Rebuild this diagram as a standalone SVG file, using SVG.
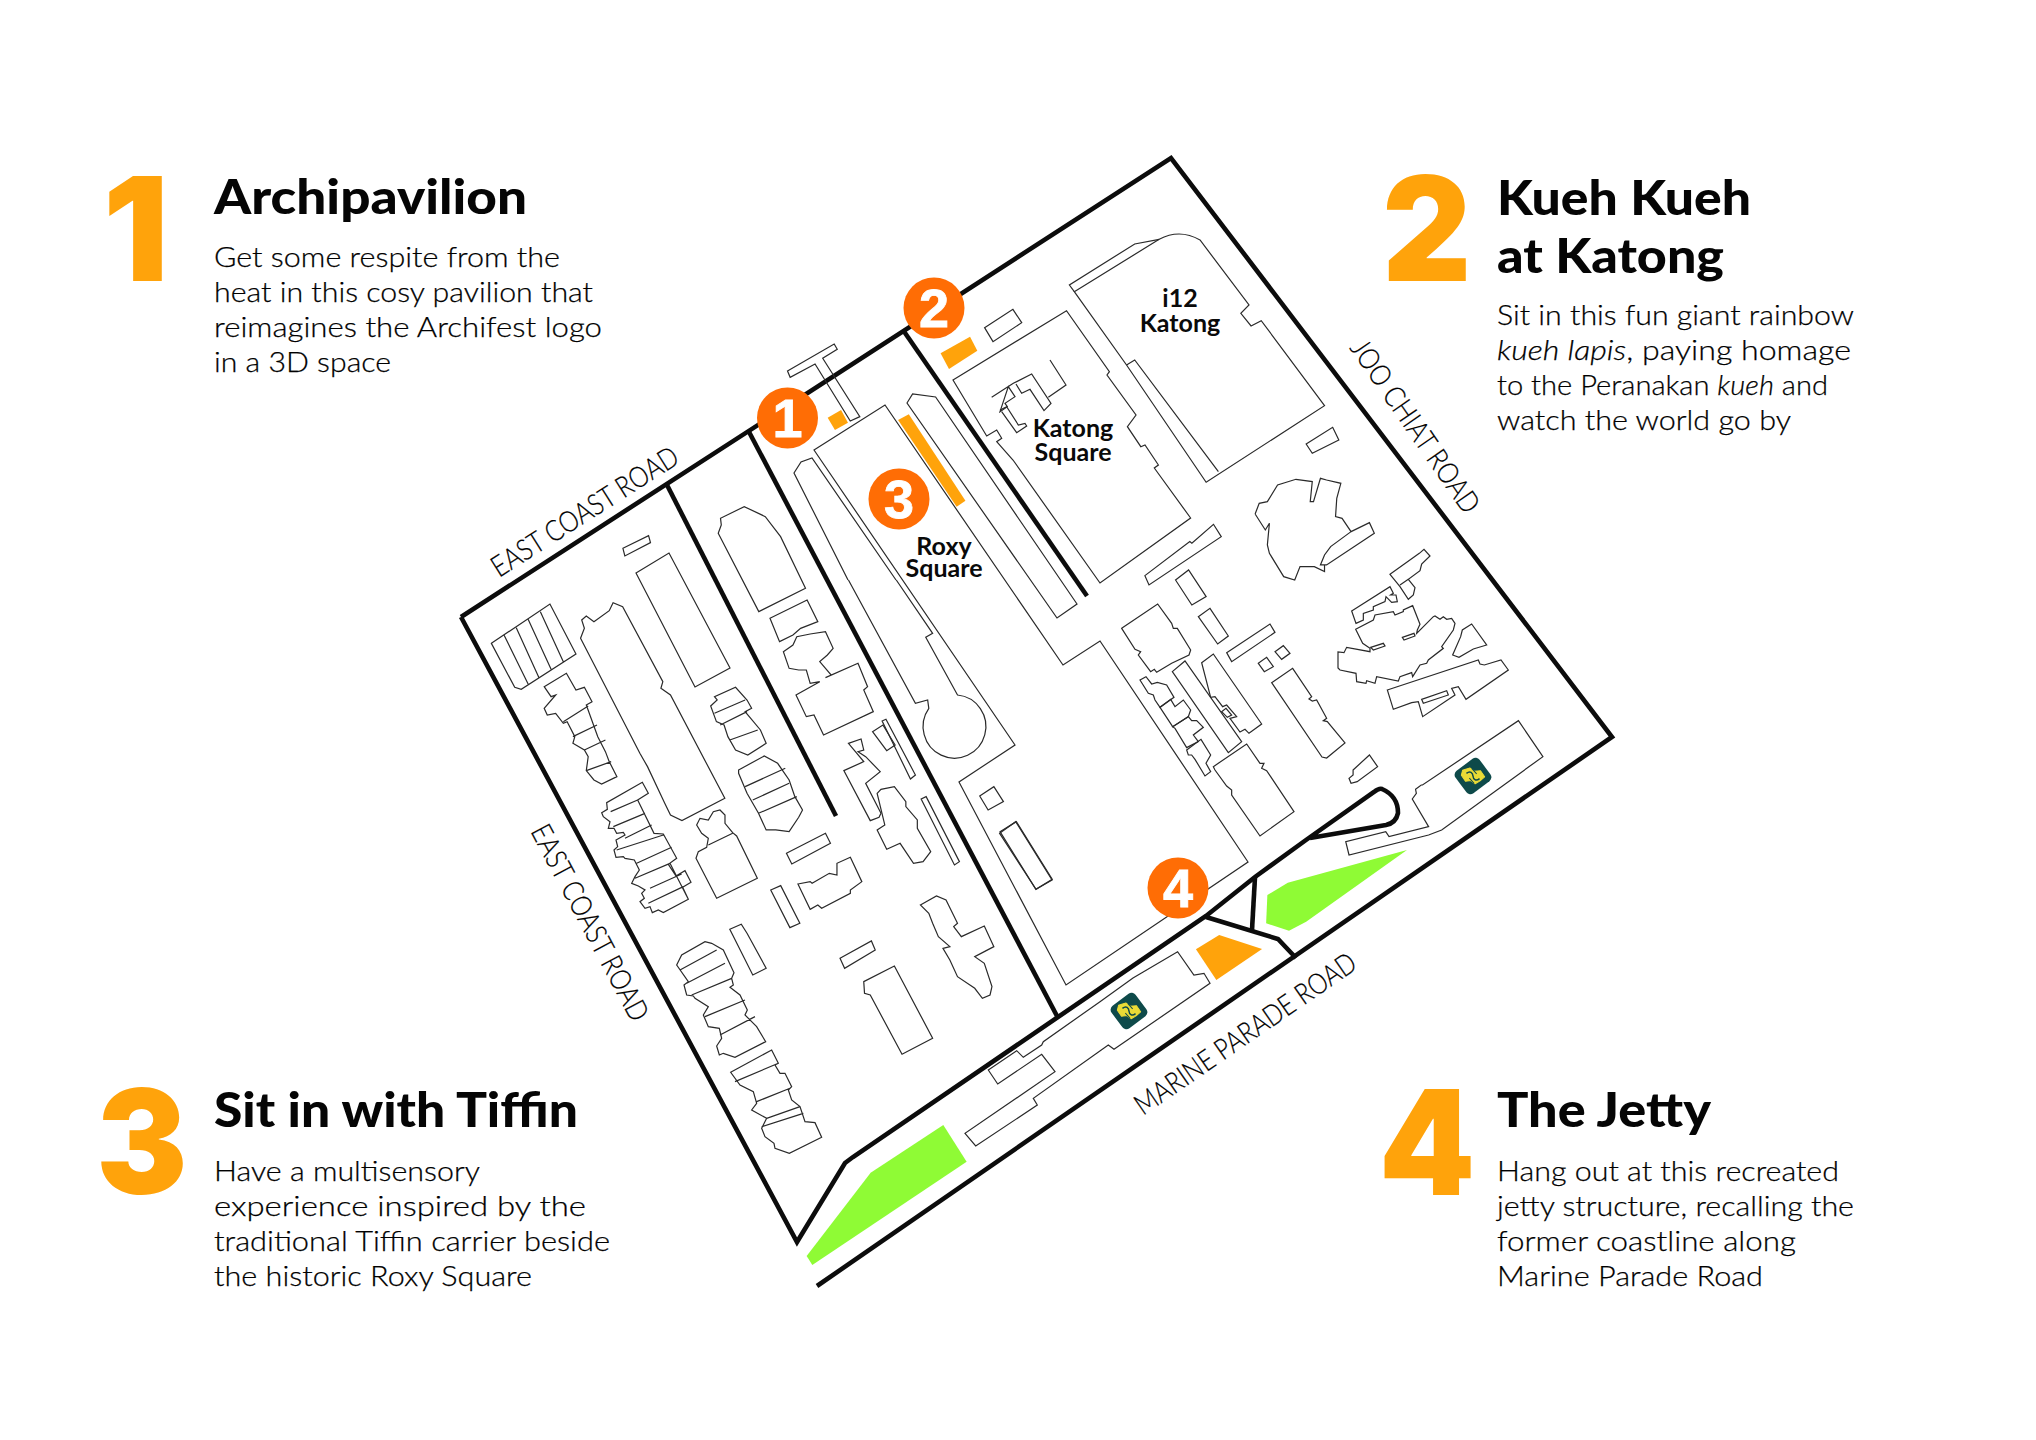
<svg xmlns="http://www.w3.org/2000/svg" width="2036" height="1440" viewBox="0 0 2036 1440">
<style>
text{font-variant-ligatures:none}
.b{fill:none;stroke:#2a2a2a;stroke-width:1.2;stroke-linejoin:miter;vector-effect:non-scaling-stroke}
.r{fill:none;stroke:#0c0c0c;stroke-width:4.6;stroke-linejoin:miter;stroke-linecap:butt}
.o{fill:#ffa30b}.g{fill:#8ffb35}
.dot{fill:#ff6d05}
.dn{font:700 54px "Liberation Sans",Arial,sans-serif;fill:#fff;text-anchor:middle;stroke:#fff;stroke-width:.8}
.big{font:900 145px Inter,"Liberation Sans",sans-serif;fill:#ffa30b}
.h{font:900 48px Lato,"Noto Sans",sans-serif;fill:#050505}
.p{font:300 28px Lato,"Noto Sans",sans-serif;fill:#000;stroke:#000;stroke-width:.25}
.i{font-style:italic}
.rd{font:300 29px Lato,"Noto Sans",sans-serif;fill:#000;stroke:#000;stroke-width:.2}
.m{font:700 25px Lato,"Noto Sans",sans-serif;fill:#0a0a0a}
</style>
<defs>
<g id="mrt">
<rect x="-15" y="-14" width="30" height="28" rx="5" fill="#0e4a4a" transform="rotate(-37)"/>
<g transform="rotate(14)">
<path d="M-11.500,-3 L-5,-7 L0,-5 L6,-7 L11.500,-2 L8,3 L4,7 L-1,5 L-6,7 L-11.500,2 Z" fill="#eadb36" stroke="#eadb36" stroke-linejoin="round"/>
<path d="M-7,-1 C-4,-5 -1,-3 0,0 C1,3 4,5 7,1" fill="none" stroke="#0e4a4a" stroke-width="1.5"/>
<path d="M-3,-7 L3,-3 M-3,3 L3,7" fill="none" stroke="#0e4a4a" stroke-width="1"/>
</g>
</g>
</defs>

<g id="connectors">
<path class="r" d="M461,617 L1171,158 L1612,737 L817,1286"/>
<path class="r" d="M461,617 L797,1242 L845,1163 Q849,1160 853,1157 L1206,916 L1255,877 L1306,840 L1374,792 Q1379,788 1382,789 Q1398,796 1398,813 Q1396,823 1386,825 L1310,838"/>
<path class="r" d="M1206,917 L1278,939 L1296,958"/>
<path class="r" d="M1255,877 L1252,930"/>
<path class="r" d="M666,483 L836,816"/>
<path class="r" d="M748,430 L1057,1016"/>
<path class="r" d="M903,330 L1087,596"/>
</g>

<g id="buildings-abs">
<path class="b" d="M814,450 L885,405 L1063,665 L1100,641 L1248,862 L1066,985 L959,782 L1015,745 Z"/>
<path class="b" d="M907,403 L912.6,394 L935.6,397 L1077,604 L1057,618 Z"/>
<path class="b" d="M953,380 L1066.5,310.7 L1109.4,371.7 L1107,375 L1136,415 L1127.4,426.7 L1140.8,446.7 L1145,445 L1158.4,465 L1154.3,468 L1190.6,518 L1100,583 L1013,460 L996.7,441.7 L1001.7,438.3 L996.7,430 L986.7,436 Z"/>
<path class="b" d="M636,573 L669,553 L730,668 L695,687 Z"/>
<path class="b" d="M988.3,1070 L1016.7,1050.7 L1023.3,1057.3 L1041.7,1045 L1043.3,1041.7 L1100,1001.7 L1133,978 L1177.6,951.7 L1193.9,975 L1204,973.3 L1210,983.3 L1114,1049.3 L1108.3,1045 L1033.3,1098.3 L1037.3,1105 L975.7,1146 L965,1133.3 L1028.3,1090 L1055,1071.7 L1041.7,1054.3 L997.7,1084 Z"/>
</g>

<g id="buildings-a" transform="translate(440 140) scale(.3827 .3333)">
<path class="b" d="M908,693 L1030,612 L1038,628 L1000,655 L1097,830 L1072,843 L980,672 L915,712 Z"/>
<path class="b" d="M1423,563 L1497,508 L1520,548 L1445,605 Z"/>
<path class="b" d="M478,1225 L545,1187 L550,1208 L483,1248 Z"/>
<path class="b" d="M727,1180 L735,1155 L733,1135 L795,1100 L850,1130 L890,1190 L955,1345 L833,1415 Z"/>
</g>

<g id="keyhole" transform="translate(460 580) scale(.3827 .3333)">
<path class="b" d="M1015,0 L1190,370 L1222,360 L1225,385 A82,95 0 1 0 1300,345 L1217,172 L1235,160 L1140,0"/>
</g>
<path class="b" d="M848,580 L794,473 L801,462 L812,458 L896,580"/>

<g id="katong-inner" transform="translate(980 360) scale(.3333)">
<path class="b" d="M35,112 L100,70 L155,42 L213,130 L192,152 L150,88 L125,100 L108,72 M85,80 L105,110 L75,130 L82,140 L60,155 Z"/>
<path class="b" d="M60,150 L80,140 L115,195 L135,190 L140,198 L110,218 L65,155"/>
<path class="b" d="M210,0 L258,75 L205,112"/>
</g>

<g id="buildings-b" transform="translate(1000 140) scale(.4082 .3333)">
<path class="b" d="M182,455 L390,298 Q440,265 490,300 L610,495 L590,520 L615,558 L640,542 L795,797 L505,1027 L310,675 Z"/>
<path class="b" d="M182,455 L170,435 L330,312 L390,298"/>
<path class="b" d="M310,675 L330,660 L535,995"/>
<path class="b" d="M750,912 L815,862 L830,900 L765,940 Z"/>
<path class="b" d="M625,1122 L635,1090 L655,1085 L680,1035 L725,1018 L765,1025 L760,1085 L768,1085 L785,1015 L800,1020 L835,1030 L825,1075 L822,1130 L838,1135 L860,1175 L905,1148 L917,1180 L800,1275 L785,1275 L795,1245 L810,1220 L860,1175 M795,1275 L795,1295 L770,1280 L735,1280 L722,1320 L695,1310 L660,1240 L655,1215 L660,1150 L650,1170 L625,1122"/>
<path class="b" d="M430,1320 L462,1290 L505,1370 L470,1395 Z"/>
<path class="b" d="M355,1307 L465,1205 L470,1210 L523,1153 L542,1190 L365,1335 Z"/>
</g>

<g id="buildings-d" transform="translate(1000 600) scale(.4082 .3333)">
<path class="b" d="M1270,362 L1330,470 L1082,690 L1050,705 L855,765 L847,725 L945,695 L953,710 L1050,680 L1010,597 L1020,580 L1018,568 L1032,555 L1035,555 Z"/>
<path class="b" d="M865,510 L905,465 L925,500 L875,545 L860,550 L855,535 L865,525 Z"/>
<path class="b" d="M0,695 L40,665 L128,838 L88,868 Z"/>
</g>

<g id="buildings-f" transform="translate(1120 600) scale(.3333)">
<path class="b" d="M5,85 L113,12 L155,70 L160,85 L172,85 L212,150 L207,165 L155,190 L130,205 L110,217 L103,208 L92,215 L55,165 L62,155 L45,148 Z"/>
<path class="b" d="M235,50 L270,25 L325,108 L293,132 Z"/>
<path class="b" d="M320,158 L450,72 L465,97 L335,185 Z"/>
<path class="b" d="M415,190 L440,172 L460,200 L433,215 Z"/>
<path class="b" d="M465,155 L490,137 L510,160 L485,178 Z"/>
<path class="b" d="M455,248 L518,205 L575,290 L567,297 L577,303 L590,300 L620,355 L610,362 L622,365 L675,429 L620,474 L606,471 Z"/>
<path class="b" d="M157,215 L195,183 L365,425 L325,458 Z"/>
<path class="b" d="M245,188 L280,162 L425,372 L387,400 L375,388 L360,396 L330,355 L350,350 L320,315 L308,320 L285,290 L272,292 Z"/>
<path class="b" d="M305,335 L318,325 L335,345 L322,352 Z"/>
<path class="b" d="M60,240 L78,230 L95,252 L112,247 L140,255 L162,292 L120,322 L105,300 L100,285 L85,280 Z"/>
<path class="b" d="M120,322 L152,298 L165,320 L190,300 L212,330 L205,350 L158,380 Z"/>
<path class="b" d="M158,380 L205,350 L215,362 L230,362 L250,382 L220,405 L235,425 L200,443 L165,385 Z"/>
<path class="b" d="M200,450 L243,418 L272,465 L258,490 L272,515 L255,528 L225,478 L215,465 L205,465 Z"/>
<path class="b" d="M280,500 L380,432 L420,490 L432,490 L425,505 L440,512 L522,635 L420,708 L335,585 L335,570 L320,558 L285,510 Z"/>
</g>

<g id="buildings-g" transform="translate(1340 540) scale(.3333)">
<path class="b" d="M150,103 L238,40 L252,28 L270,48 L245,72 L240,92 L205,118 L225,143 L220,165 L205,178 L180,140 Z M180,135 L205,118"/>
<path class="b" d="M35,213 L150,140 L160,160 L152,165 L168,165 L172,185 L155,187 L138,170 L135,185 L100,200 L100,210 L70,220 L70,240 L48,250 Z"/>
<path class="b" d="M47,268 L100,240 L105,225 L160,215 L165,225 L190,215 L190,210 L218,197 L240,253 L232,270 L230,280 L280,230 L285,228 L300,238 L310,230 L320,238 L335,235 L345,250 L340,270 L305,320 L310,325 L265,360 L260,370 L240,375 L218,410 L215,398 L180,410 L175,423 L110,410 L105,430 L80,422 L78,430 L50,425 L48,400 L0,390 L-6,384 L-6,336 L12,338 L20,322 L90,335 L90,325 L68,310 Z"/>
<path class="b" d="M187,292 L222,280 L225,288 L192,300 Z"/>
<path class="b" d="M92,322 L130,310 L135,318 L100,330 Z"/>
<path class="b" d="M395,252 L440,315 L400,327 L357,352 L338,345 L362,290 L367,270 Z"/>
<path class="b" d="M142,450 L415,360 L420,372 L433,375 L483,360 L505,390 L378,478 L355,440 L335,445 L345,465 L248,530 L235,485 L215,488 L160,508 Z"/>
<path class="b" d="M245,478 L320,452 L325,465 L250,490 Z"/>
</g>

<g id="buildings-c" transform="translate(460 580) scale(.3827 .3333)">
<path class="b" d="M82,190 L235,72 L303,222 L160,328 L143,322 Z M115,165 L178,312 M147,143 L207,295 M178,118 L238,268 M210,95 L270,245"/>
<path class="b" d="M315,175 L325,145 L318,120 L330,108 L350,125 L390,92 L400,68 L425,80 L530,305 L525,325 L550,345 L692,655 L580,722 L550,705 L535,670 L490,560 L470,520 Z"/>
<path class="b" d="M220,320 L278,280 L303,330 L325,322 L345,365 L330,375 L360,470 L380,515 L390,545 L410,590 L370,612 L350,600 L330,572 L335,530 L325,510 L295,490 L300,470 L280,425 L270,430 L250,400 L228,405 L220,385 L250,345 L238,350 Z M270,425 L335,378 M295,470 L358,435 M325,510 L380,480 M330,572 L395,545"/>
<path class="b" d="M655,378 L672,360 L665,350 L720,322 L750,360 L762,385 L745,395 L785,450 L800,490 L752,525 L720,510 L700,470 L690,435 L670,425 Z M665,400 L745,360 M680,435 L750,395 M705,480 L778,450"/>
<path class="b" d="M728,570 L795,528 L830,550 L860,600 L875,650 L895,690 L885,712 L860,755 L825,750 L800,750 L780,700 L750,640 L728,580 Z M745,620 L850,565 M765,660 L860,610 M780,700 L880,650"/>
<path class="b" d="M810,115 L907,60 L935,125 L890,145 L870,165 L835,185 Z"/>
<path class="b" d="M845,215 L870,195 L880,170 L915,162 L955,155 L975,205 L960,225 L940,245 L970,285 L955,293 L1040,250 L1065,320 L1055,330 L1080,395 L950,465 L925,405 L905,410 L878,345 L940,305 L915,310 L905,270 L885,270 L860,265 Z"/>
<path class="b" d="M1015,490 L1048,477 L1055,510 L1040,515 L1060,530 L1098,575 L1060,610 L1100,700 L1095,712 L1072,722 L1003,572 L1055,545 Z"/>
<path class="b" d="M1078,455 L1105,435 L1137,495 L1115,512 Z"/>
<path class="b" d="M1103,423 L1113,418 L1190,585 L1177,597 Z"/>
<path class="b" d="M1090,640 L1100,628 L1135,620 L1165,665 L1165,680 L1195,720 L1195,745 L1230,815 L1210,845 L1185,850 L1150,790 L1115,808 L1090,750 L1110,735 Z"/>
<path class="b" d="M1205,657 L1218,650 L1305,845 L1292,855 Z"/>
<path class="b" d="M853,820 L955,760 L968,790 L867,852 Z"/>
<path class="b" d="M812,930 L838,917 L888,1030 L862,1043 Z"/>
<path class="b" d="M883,912 L915,905 L920,910 L965,880 L985,885 L985,850 L1020,832 L1050,905 L1020,930 L1020,940 L945,985 L935,975 L915,988 Z"/>
<path class="b" d="M705,1048 L735,1033 L750,1060 L800,1165 L765,1185 Z"/>
<path class="b" d="M993,1135 L1075,1083 L1085,1110 L1005,1165 Z"/>
<path class="b" d="M1055,1205 L1135,1158 L1235,1375 L1155,1423 L1072,1245 L1057,1240 Z"/>
<path class="b" d="M1203,975 L1245,948 L1270,960 L1300,1030 L1290,1040 L1310,1070 L1370,1038 L1395,1100 L1345,1130 L1370,1150 L1390,1220 L1385,1245 L1365,1255 L1345,1225 L1300,1190 L1280,1140 L1262,1105 L1280,1100 L1250,1070 L1235,1030 L1225,1000 Z"/>
<path class="b" d="M1358,648 L1395,620 L1420,665 L1380,690 Z"/>
<path class="b" d="M1410,760 L1452,725 L1547,900 L1505,928 Z"/>
</g>

<g id="buildings-h" transform="translate(590 770) scale(.3333)">
<path class="b" d="M35,128 L52,118 L50,98 L157,37 L175,70 L143,90 L192,190 L220,192 L260,265 L235,283 L258,318 L285,302 L303,337 L278,352 L295,388 L220,428 L205,420 L187,428 L180,410 L165,415 L150,395 L163,385 L155,370 L165,360 L145,348 L125,340 L135,320 L148,300 L133,270 L105,265 L100,260 L78,262 L72,240 L83,230 L78,210 L105,195 L100,187 L80,190 L72,175 L55,175 L60,155 L40,140 Z M62,125 L143,90 M70,170 L165,130 M105,205 L185,165 M80,240 L220,195 M140,280 L245,232 M135,325 L240,280 M180,355 L275,312 M175,400 L280,350 M240,280 L295,388"/>
<path class="b" d="M320,165 L330,145 L355,150 L370,125 L390,120 L405,135 L405,160 L428,188 L440,198 L502,325 L380,385 L318,265 L325,245 L350,232 L355,205 L335,190 Z M355,225 L428,190"/>
</g>

<g id="buildings-e" transform="translate(660 900) scale(.3333)">
<path class="b" d="M50,195 L65,165 L135,125 L155,130 L190,150 L222,218 L215,235 L220,255 L210,262 L240,285 L262,330 L255,345 L290,380 L317,425 L225,472 L190,460 L178,465 L170,438 L185,415 L178,385 L145,380 L130,345 L145,320 L105,295 L100,288 L80,285 L72,255 L85,245 Z M60,210 L170,150 M80,250 L195,190 M95,285 L215,235 M135,350 L255,300 M180,405 L285,350"/>
<path class="b" d="M212,517 L335,450 L355,490 L345,495 L360,520 L375,520 L395,560 L385,570 L395,600 L420,620 L435,665 L465,668 L485,712 L388,760 L345,745 L342,730 L315,710 L305,685 L320,655 L275,630 L290,610 L280,575 L240,555 Z M225,545 L355,490 M290,605 L390,565 M320,655 L420,620 M305,680 L430,640"/>
</g>

<g id="site-1"><path class="o" transform="translate(440 140) scale(.3827 .3333)" d="M1013,833 L1048,810 L1066,848 L1032,870 Z"/></g>
<g id="site-2"><path class="o" transform="translate(440 140) scale(.3827 .3333)" d="M1308,640 L1385,590 L1404,632 L1330,687 Z"/></g>
<g id="site-3"><path class="o" transform="translate(440 140) scale(.3827 .3333)" d="M1197,840 L1225,823 L1373,1082 L1350,1100 Z"/></g>
<g id="site-4"><path class="o" transform="translate(1000 600) scale(.4082 .3333)" d="M480,1048 L537,1005 L642,1047 L530,1140 Z"/></g>
<g id="park-1"><path class="g" transform="translate(1000 600) scale(.4082 .3333)" d="M997,750 L705,848 L655,885 L652,970 L708,992 L750,965 Z"/></g>
<g id="park-2"><path class="g" transform="translate(660 900) scale(.3333)" d="M850,675 L920,785 L457,1095 L440,1068 L632,818 Z"/></g>
<use id="mrt-1" href="#mrt" x="1473" y="776"/>
<use id="mrt-2" href="#mrt" x="1129" y="1011"/>

<g id="marker-1"><circle class="dot" cx="787.5" cy="418" r="30.5"/><text class="dn" x="787.5" y="437">1</text></g>
<g id="marker-2"><circle class="dot" cx="934" cy="308" r="30.5"/><text class="dn" x="934" y="327">2</text></g>
<g id="marker-3"><circle class="dot" cx="899" cy="499" r="30.5"/><text class="dn" x="899" y="518">3</text></g>
<g id="marker-4"><circle class="dot" cx="1178" cy="888" r="30.5"/><text class="dn" x="1178" y="907">4</text></g>

<g id="road-labels">
<text class="rd" transform="translate(499 578) rotate(-32.5)" textLength="216" lengthAdjust="spacingAndGlyphs">EAST COAST ROAD</text>
<text class="rd" transform="translate(530 831) rotate(62)" textLength="218" lengthAdjust="spacingAndGlyphs">EAST COAST ROAD</text>
<text class="rd" transform="translate(1349 348) rotate(55.300)" textLength="204" lengthAdjust="spacingAndGlyphs">JOO CHIAT ROAD</text>
<text class="rd" transform="translate(1143 1116) rotate(-34.500)" textLength="262" lengthAdjust="spacingAndGlyphs">MARINE PARADE ROAD</text>
</g>
<g id="place-labels">
<text class="m" text-anchor="middle"><tspan x="944" y="555">Roxy</tspan><tspan x="944" y="577">Square</tspan></text>
<text class="m" text-anchor="middle"><tspan x="1180" y="307">i12</tspan><tspan x="1180" y="332">Katong</tspan></text>
<text class="m" text-anchor="middle"><tspan x="1073" y="437">Katong</tspan><tspan x="1073" y="461">Square</tspan></text>
</g>

<g id="item-1">
<text class="big" x="103" y="281">1</text>
<text class="h" x="214" y="214" textLength="313" lengthAdjust="spacingAndGlyphs">Archipavilion</text>
<text class="p" x="214" y="267" textLength="346" lengthAdjust="spacingAndGlyphs">Get some respite from the</text>
<text class="p" x="214" y="302" textLength="379" lengthAdjust="spacingAndGlyphs">heat in this cosy pavilion that</text>
<text class="p" x="214" y="337" textLength="388" lengthAdjust="spacingAndGlyphs">reimagines the Archifest logo</text>
<text class="p" x="214" y="372" textLength="177" lengthAdjust="spacingAndGlyphs">in a 3D space</text>
</g>
<g id="item-2">
<text class="big" transform="translate(1382.300 281) scale(.95 1)">2</text>
<text class="h" x="1497" y="215" textLength="254" lengthAdjust="spacingAndGlyphs">Kueh Kueh</text>
<text class="h" x="1497" y="273" textLength="227" lengthAdjust="spacingAndGlyphs">at Katong</text>
<text class="p" x="1497" y="325" textLength="357" lengthAdjust="spacingAndGlyphs">Sit in this fun giant rainbow</text>
<text class="p" x="1497" y="360" textLength="354" lengthAdjust="spacingAndGlyphs"><tspan class="i">kueh lapis</tspan>, paying homage</text>
<text class="p" x="1497" y="395" textLength="331" lengthAdjust="spacingAndGlyphs">to the Peranakan <tspan class="i">kueh</tspan> and</text>
<text class="p" x="1497" y="430" textLength="294" lengthAdjust="spacingAndGlyphs">watch the world go by</text>
</g>
<g id="item-3">
<text class="big" transform="translate(96.300 1194) scale(.94 1)">3</text>
<text class="h" x="214" y="1127" textLength="364" lengthAdjust="spacingAndGlyphs">Sit in with Tiffin</text>
<text class="p" x="214" y="1181" textLength="266" lengthAdjust="spacingAndGlyphs">Have a multisensory</text>
<text class="p" x="214" y="1216" textLength="372" lengthAdjust="spacingAndGlyphs">experience inspired by the</text>
<text class="p" x="214" y="1251" textLength="396" lengthAdjust="spacingAndGlyphs">traditional Tiffin carrier beside</text>
<text class="p" x="214" y="1286" textLength="318" lengthAdjust="spacingAndGlyphs">the historic Roxy Square</text>
</g>
<g id="item-4">
<text class="big" transform="translate(1379 1195) scale(.945 1)">4</text>
<text class="h" x="1497" y="1127" textLength="214" lengthAdjust="spacingAndGlyphs">The Jetty</text>
<text class="p" x="1497" y="1181" textLength="342" lengthAdjust="spacingAndGlyphs">Hang out at this recreated</text>
<text class="p" x="1497" y="1216" textLength="357" lengthAdjust="spacingAndGlyphs">jetty structure, recalling the</text>
<text class="p" x="1497" y="1251" textLength="299" lengthAdjust="spacingAndGlyphs">former coastline along</text>
<text class="p" x="1497" y="1286" textLength="266" lengthAdjust="spacingAndGlyphs">Marine Parade Road</text>
</g>
</svg>
